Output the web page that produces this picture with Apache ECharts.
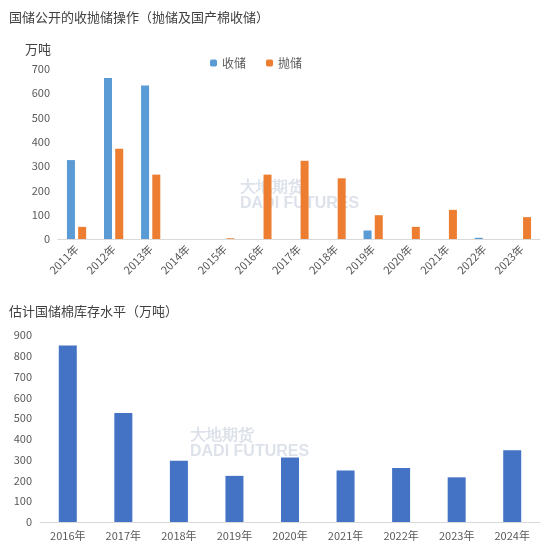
<!DOCTYPE html><html><head><meta charset="utf-8"><script src="https://cdn.jsdelivr.net/npm/echarts@6/dist/echarts.min.js"></script></head><body style="margin:0"><div id="c" style="width:550px;height:553px"></div><script>
const years1=['2011年','2012年','2013年','2014年','2015年','2016年','2017年','2018年','2019年','2020年','2021年','2022年','2023年'];
const shou=[325,663,632,0,0,0,0,0,35,0,0,5,0];
const pao=[50,372,265,0,3,265,322,250,98,50,120,0,90];
const years2=['2016年','2017年','2018年','2019年','2020年','2021年','2022年','2023年','2024年'];
const stock=[850,525,295,222,310,248,260,215,345];
const f='"Microsoft YaHei","Noto Sans CJK SC",sans-serif';
const ax={axisLine:{show:false},axisTick:{show:false},splitLine:{show:false},axisLabel:{color:'#595959',fontSize:11,fontFamily:f}};
const c=echarts.init(document.getElementById('c'));
c.setOption({animation:false,textStyle:{fontFamily:f},
title:[{text:'国储公开的收抛储操作（抛储及国产棉收储）',left:4,top:6,textStyle:{fontSize:13,fontWeight:'normal',color:'#404040'}},
{text:'万吨',left:20,top:38,textStyle:{fontSize:13,fontWeight:'normal',color:'#404040'}},
{text:'估计国储棉库存水平（万吨）',left:4,top:300,textStyle:{fontSize:13,fontWeight:'normal',color:'#404040'}}],
legend:{data:['收储','抛储'],top:52,left:205,itemWidth:7,itemHeight:7,itemGap:20,textStyle:{fontSize:12,color:'#595959'}},
graphic:[{type:'text',left:240,top:180,style:{text:'大地期货\nDADI FUTURES',fill:'rgba(120,140,170,0.25)',fontSize:16,fontWeight:'bold'}},
{type:'text',left:190,top:428,style:{text:'大地期货\nDADI FUTURES',fill:'rgba(120,140,170,0.25)',fontSize:16,fontWeight:'bold'}}],
grid:[{left:58,right:10,top:69,bottom:314},{left:40,right:10,top:335,bottom:31}],
xAxis:[{type:'category',data:years1,gridIndex:0,...ax,axisLine:{show:true,lineStyle:{color:'#d9d9d9'}},axisLabel:{...ax.axisLabel,rotate:45}},
{type:'category',data:years2,gridIndex:1,...ax,axisLine:{show:true,lineStyle:{color:'#d9d9d9'}}}],
yAxis:[{type:'value',gridIndex:0,min:0,max:700,interval:100,...ax},
{type:'value',gridIndex:1,min:0,max:900,interval:100,...ax}],
series:[{name:'收储',type:'bar',data:shou,itemStyle:{color:'#5B9BD5'},barWidth:8,barGap:'40%'},
{name:'抛储',type:'bar',data:pao,itemStyle:{color:'#ED7D31'},barWidth:8},
{type:'bar',data:stock,xAxisIndex:1,yAxisIndex:1,itemStyle:{color:'#4472C4'},barWidth:18}]});
</script></body></html>
